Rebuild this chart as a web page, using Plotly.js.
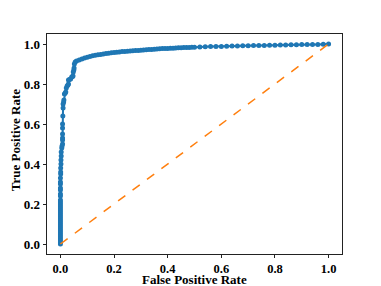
<!DOCTYPE html>
<html>
<head>
<meta charset="utf-8">
<script src="https://cdn.plot.ly/plotly-3.0.1.min.js"></script>
<style>html,body{margin:0;padding:0;background:#fff;}#chart{width:381px;height:286px;}</style>
</head>
<body>
<div id="chart"></div>
<script>
var fpr = [0,0,0,0,0,0,0,0,0,0,0,0,0,0,0,0,0,0,0,0,0,0,0,0,0,0,0,0,0,0,0.001,0.001,0.001,0.002,0.002,0.003,0.003,
  0.005,0.006,0.008,0.008,0.008,0.008,0.008,0.008,0.009,0.01,0.01,0.012,0.013,0.015,0.018,0.02,0.022,0.025,0.028,0.03,0.03,
  0.034,0.038,0.042,0.045,0.047,0.048,0.05,0.051,0.052,0.055,
  0.06,0.07,0.08,0.09,0.10,0.11,0.12,0.13,0.14,0.15,0.16,0.17,0.18,0.19,0.20,0.21,0.22,0.23,0.24,0.25,
  0.26,0.27,0.28,0.29,0.30,0.31,0.32,0.33,0.34,0.35,0.36,0.37,0.38,0.39,0.40,0.41,0.42,0.43,0.44,0.45,
  0.46,0.47,0.48,0.49,0.50,0.52,0.54,0.56,0.58,0.60,0.62,0.64,0.66,0.68,0.70,0.72,0.74,0.76,0.78,0.80,
  0.82,0.84,0.86,0.88,0.90,0.92,0.94,0.96,0.98,1.0];
var tpr = [0,0.01,0.02,0.03,0.04,0.05,0.06,0.07,0.08,0.09,0.1,0.11,0.12,0.13,0.14,0.15,0.16,0.17,0.18,0.19,0.2,0.21,0.22,0.24,0.25,0.27,0.28,0.3,0.31,0.33,0.35,0.36,0.38,0.4,0.42,0.44,0.46,
  0.48,0.49,0.5,0.52,0.53,0.55,0.58,0.6,0.64,0.68,0.7,0.71,0.72,0.75,0.755,0.76,0.78,0.79,0.795,0.8,0.82,
  0.822,0.825,0.835,0.838,0.84,0.86,0.87,0.88,0.9,0.91,
  0.915,0.92,0.925,0.93,0.934,0.938,0.941,0.944,0.946,0.948,0.95,0.952,0.954,0.956,0.957,0.959,0.96,0.962,0.963,0.964,
  0.965,0.966,0.967,0.968,0.969,0.97,0.971,0.972,0.973,0.974,0.975,0.976,0.977,0.977,0.978,0.979,0.979,0.98,0.981,0.981,
  0.982,0.983,0.983,0.984,0.984,0.985,0.986,0.987,0.987,0.988,0.989,0.99,0.99,0.991,0.991,0.992,0.993,0.993,0.994,0.994,
  0.995,0.995,0.996,0.996,0.997,0.997,0.998,0.998,0.999,1.0];
var diagX = [0, 1];
var diagY = [0, 1];
var tickVals = [0, 0.2, 0.4, 0.6, 0.8, 1.0];
var tickText = ['0.0', '0.2', '0.4', '0.6', '0.8', '1.0'];
var xTitle = 'False Positive Rate';
var yTitle = 'True Positive Rate';

var fontFam = '"Liberation Serif", "Times New Roman", serif';
var traces = [
  {x: fpr, y: tpr, type: 'scatter', mode: 'lines+markers',
   line: {color: '#1f77b4', width: 2},
   marker: {color: '#1f77b4', size: 5}},
  {x: diagX, y: diagY, type: 'scatter', mode: 'lines',
   line: {color: '#ff7f0e', width: 1.5, dash: 'dash'}}
];
var axisCommon = {
  range: [-0.05, 1.05], showgrid: false, zeroline: false,
  showline: true, mirror: true, linecolor: '#222', linewidth: 1,
  ticks: 'outside', ticklen: 3.5, tickwidth: 1, tickcolor: '#222',
  tickvals: tickVals, ticktext: tickText,
  tickfont: {family: fontFam, size: 13, color: '#000', weight: 'bold'}
};
var titleFont = {family: fontFam, size: 13, color: '#000', weight: 'bold'};
var layout = {
  width: 381, height: 286,
  margin: {l: 47, r: 39, t: 34, b: 32},
  showlegend: false,
  paper_bgcolor: '#fff', plot_bgcolor: '#fff',
  xaxis: Object.assign({}, axisCommon, {ticklen: 2.5, tickfont: {family: fontFam, size: 12.5, color: '#000', weight: 'bold'}}),
  yaxis: Object.assign({}, axisCommon),
  annotations: [
    {text: xTitle, xref: 'paper', yref: 'paper', x: 0.5, y: -0.118,
     xanchor: 'center', yanchor: 'middle', showarrow: false, font: titleFont},
    {text: yTitle, xref: 'paper', yref: 'paper', x: -0.108, y: 0.518, textangle: -90,
     xanchor: 'center', yanchor: 'middle', showarrow: false, font: titleFont}
  ]
};
Plotly.newPlot('chart', traces, layout, {staticPlot: true, displayModeBar: false});
</script>
</body>
</html>
